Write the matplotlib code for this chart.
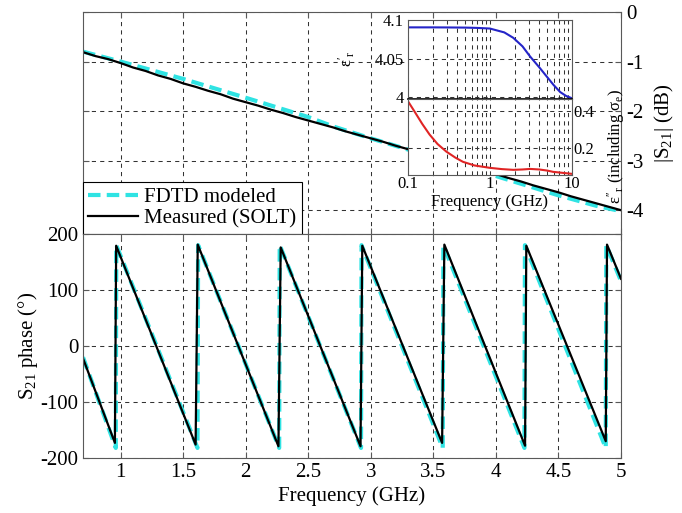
import numpy as np
import matplotlib
matplotlib.use("Agg")
import matplotlib.pyplot as plt
from matplotlib.ticker import NullFormatter, LogLocator

plt.rcParams['font.family'] = ['Liberation Serif', 'DejaVu Serif']
plt.rcParams['mathtext.default'] = 'regular'
plt.rcParams['axes.unicode_minus'] = False

# |S21| magnitude (dB)
f_mag = [0.7, 0.8, 0.9, 1.0, 1.1, 1.2, 1.3, 1.4, 1.5, 1.6, 1.7, 1.8, 1.9, 2.0,
         2.1, 2.2, 2.3, 2.4, 2.5, 2.6, 2.7, 2.8, 2.9, 3.0, 3.1, 3.2, 3.3, 3.4,
         3.5, 3.6, 3.7, 3.8, 3.9, 4.0, 4.1, 4.2, 4.3, 4.4, 4.5, 4.6, 4.7, 4.8,
         4.9, 5.0]
mag_meas = [-0.81, -0.89, -0.95, -1.03, -1.12, -1.19, -1.28, -1.35, -1.44, -1.51,
            -1.59, -1.66, -1.75, -1.82, -1.89, -1.97, -2.04, -2.12, -2.19, -2.26,
            -2.33, -2.41, -2.48, -2.55, -2.62, -2.70, -2.77, -2.84, -2.91, -2.98,
            -3.05, -3.13, -3.20, -3.27, -3.35, -3.42, -3.50, -3.57, -3.64, -3.72,
            -3.79, -3.86, -3.93, -4.00]
f_mag_fdtd = [0.7, 1.0, 1.5, 2.0, 2.5, 2.7, 3.0, 3.5, 4.0, 4.5, 4.8, 5.0]
mag_fdtd = [-0.80, -1.00, -1.35, -1.73, -2.12, -2.31, -2.55, -2.93, -3.31, -3.70, -3.91, -4.02]

# S21 phase (deg)
f_ph_meas = [0.7, 0.955, 0.965, 1.60, 1.617, 2.262, 2.28, 2.918, 2.932, 3.57,
             3.588, 4.233, 4.243, 4.878, 4.888, 5.0]
ph_meas = [-22, -173, 179, -176, 181, -179, 176, -179, 179, -173, 181, -178, 179,
           -170, 181, 120]
f_ph_fdtd = [0.7, 0.962, 0.966, 1.615, 1.62, 2.268, 2.272, 2.922, 2.926, 3.575,
             3.58, 4.228, 4.232, 4.878, 4.882, 5.0]
ph_fdtd = [-20, -182, 180, -182, 180, -182, 180, -182, 180, -182, 180, -182, 180,
           -182, 180, 116]

# inset: permittivity
f_eps = [0.1, 0.2, 0.3, 0.5, 0.7, 1.0, 1.5, 1.93, 2.5, 3.09, 4.0, 4.94, 6.0, 7.2, 8.5, 10]
eps_re = [4.0905, 4.0905, 4.0904, 4.0902, 4.0898, 4.089, 4.084, 4.077, 4.066, 4.053,
          4.039, 4.027, 4.016, 4.007, 4.002, 3.999]
f_loss = [0.1, 0.12, 0.15, 0.184, 0.23, 0.295, 0.38, 0.47, 0.65, 1.0, 1.4, 1.93,
          2.5, 3.1, 4.0, 5.0, 5.9, 7.5, 10]
eps_im = [0.456, 0.40, 0.33, 0.272, 0.22, 0.178, 0.145, 0.122, 0.102, 0.089, 0.082,
          0.078, 0.080, 0.083, 0.080, 0.074, 0.067, 0.062, 0.056]

cyan = '#2fe3e3'
grid_kw = dict(color='0.2', linestyle=(0, (4, 4)), linewidth=0.75)
spine_c = '0.35'

fig = plt.figure(figsize=(6.82, 5.13), dpi=100)
ax1 = fig.add_axes([0.1217, 0.5439, 0.7889, 0.4327])
ax2 = fig.add_axes([0.1217, 0.1072, 0.7889, 0.4367])

# magnitude
ax1.plot(f_mag_fdtd, mag_fdtd, color=cyan, linestyle=(0, (3, 1.5)), linewidth=3, label='FDTD modeled')
ax1.plot(f_mag, mag_meas, color='black', linewidth=1.6, label='Measured (SOLT)')
ax1.set_xlim(0.7, 5)
ax1.set_ylim(-4.48, 0)
ax1.set_yticks([-4, -3, -2, -1, 0])
ax1.set_xticks([1, 1.5, 2, 2.5, 3, 3.5, 4, 4.5, 5])
ax1.yaxis.tick_right()
ax1.yaxis.set_label_position('right')
ax1.set_ylabel('|S$_{21}$| (dB)', fontsize=15, labelpad=6)
ax1.tick_params(labelbottom=False, direction='in', top=True, right=True, left=True,
                labelsize=15, length=4, color=spine_c)
ax1.grid(True, **grid_kw)
leg = ax1.legend(loc='lower left', bbox_to_anchor=(0, 0), borderaxespad=0, fontsize=15,
                 fancybox=False, edgecolor='black', framealpha=1, handlelength=2.4,
                 handletextpad=0.3, borderpad=0.25, labelspacing=0.1)
leg.get_frame().set_linewidth(0.8)

# phase
ax2.plot(f_ph_fdtd, ph_fdtd, color=cyan, linestyle=(0, (3, 1.5)), linewidth=3)
ax2.plot(f_ph_meas, ph_meas, color='black', linewidth=1.6)
ax2.set_xlim(0.7, 5)
ax2.set_ylim(-200, 200)
ax2.set_xticks([1, 1.5, 2, 2.5, 3, 3.5, 4, 4.5, 5])
ax2.set_xticklabels(['1', '1.5', '2', '2.5', '3', '3.5', '4', '4.5', '5'])
ax2.set_yticks([-200, -100, 0, 100, 200])
ax2.tick_params(direction='in', top=True, right=True, labelsize=15, length=4, color=spine_c)
ax2.grid(True, **grid_kw)
ax2.set_xlabel('Frequency (GHz)', fontsize=15, labelpad=3)
ax2.set_ylabel('S$_{21}$ phase (°)', fontsize=15, labelpad=0)

for a in (ax1, ax2):
    for s in a.spines.values():
        s.set_color(spine_c)

# inset
axi1 = fig.add_axes([0.598, 0.807, 0.2405, 0.154])
axi2 = fig.add_axes([0.598, 0.659, 0.2405, 0.148])
axi1.plot(f_eps, eps_re, color='#2424c8', linewidth=1.5)
axi2.plot(f_loss, eps_im, color='#e02424', linewidth=1.5)
for a in (axi1, axi2):
    a.set_xscale('log')
    a.set_xlim(0.1, 10)
    a.xaxis.set_minor_locator(LogLocator(base=10, subs=np.arange(2, 10)))
    a.xaxis.set_minor_formatter(NullFormatter())
    a.grid(True, which='major', **grid_kw)
    a.grid(True, which='minor', axis='x', **grid_kw)
    a.tick_params(which='both', length=0, labelsize=12, pad=3)
    for s in a.spines.values():
        s.set_color(spine_c)
axi1.set_ylim(3.998, 4.1)
axi1.set_yticks([4, 4.05, 4.1])
axi1.set_yticklabels(['4', '4.05', '4.1'])
axi1.tick_params(labelbottom=False)
axi1.spines['bottom'].set_color('black')
axi1.spines['bottom'].set_linewidth(1.2)
axi1.set_ylabel("$\\epsilon'_r$", fontsize=12)
axi1.yaxis.set_label_coords(-0.31, 0.5)

axi2.set_ylim(0.05, 0.467)
axi2.set_yticks([0.2, 0.4])
axi2.set_yticklabels(['0.2', '0.4'])
axi2.yaxis.tick_right()
axi2.yaxis.set_label_position('right')
axi2.tick_params(pad=1)
axi2.set_xticks([0.1, 1, 10])
axi2.set_xticklabels(['0.1', '1', '10'])
axi2.set_xlabel('Frequency (GHz)', fontsize=12, labelpad=1)
axi2.set_ylabel("$\\epsilon''_r$ (including $\\sigma_e$)", fontsize=12)
axi2.yaxis.set_label_coords(1.2, 0.38)

fig.savefig('out.png', dpi=100)
